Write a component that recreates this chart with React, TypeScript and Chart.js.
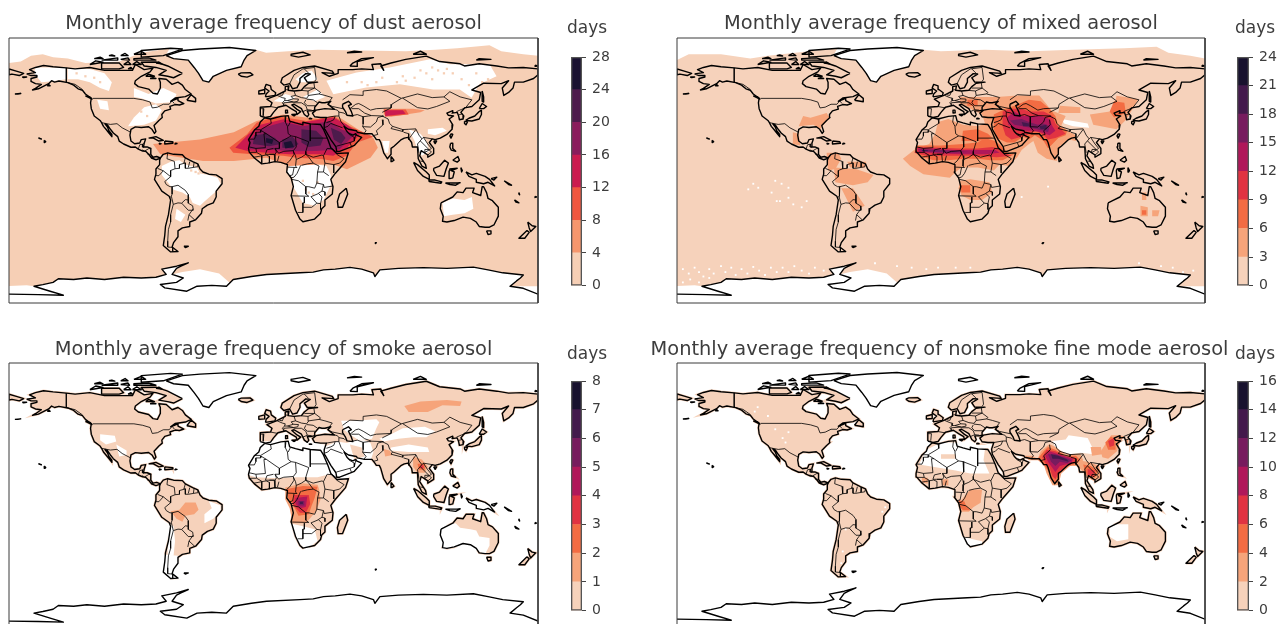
import React, { useEffect, useRef } from "react";
import { Chart, registerables } from "chart.js";
Chart.register(...registerables);

type P = number[][];

const dustTicks = [0, 4, 8, 12, 16, 20, 24, 28];
const mixedTicks = [0, 3, 6, 9, 12, 15, 18, 21, 24];
const smokeTicks = [0, 1, 2, 3, 4, 5, 6, 7, 8];
const fineTicks = [0, 2, 4, 6, 8, 10, 12, 14, 16];
const sevenColors = ["#f6cfb5", "#f5966d", "#f0563f", "#cb1b4f", "#8a1c5c", "#4d1b4c", "#1a1231"];
const eightColors = ["#f6d2bb", "#f6a47a", "#f36c43", "#e13342", "#b0185a", "#771c5e", "#431a4c", "#18122e"];

// ---------- coastlines (lon, lat) ----------
const northAmerica: P = [[-168,65.6],[-165,64.5],[-161,64.5],[-161,63.5],[-165,62.5],[-165,60.5],[-162,59],[-158,58.5],[-162,55.8],[-164,54.7],[-160,55.5],[-156,57.5],[-153,59],[-151,61],[-149,60],[-146,60.8],[-140,59.7],[-136,58],[-133,55.5],[-130,54.5],[-128,52],[-124,49],[-124.5,46],[-124,42],[-122,37],[-118,34],[-117,32.5],[-115.7,30],[-114,28],[-112,25.5],[-110,23],[-110,24.5],[-112,27],[-113,29.5],[-114.7,31.7],[-113,31],[-111,28],[-109,25.5],[-106,23],[-105,20],[-102,18],[-97,15.8],[-94,16],[-92,14.5],[-89,13.2],[-87,13],[-85,11],[-83,8.5],[-80,7.3],[-78,8],[-77,8.5],[-79.5,9.5],[-82,9],[-83.5,11],[-83.5,15],[-86,16],[-88.5,16],[-88,18.5],[-87,21.5],[-90,21],[-91,18.7],[-94.5,18.2],[-97,20],[-97.7,24],[-97,28],[-94,29.6],[-90,29.2],[-85,29.7],[-82.7,28],[-81,25.2],[-80,26.5],[-81.3,30.5],[-78,34],[-75.7,36],[-76,38],[-74,40.5],[-70,41.7],[-70.5,43.5],[-67,44.8],[-64,44.5],[-61,45.5],[-65,47.5],[-65,49],[-70,47],[-67,49.2],[-60,50.2],[-56,52],[-60,55],[-62,58],[-65,60],[-69,58.5],[-73,62],[-78,62.5],[-77,60],[-77,56],[-79,52],[-82,52.5],[-85,55.3],[-92,57],[-94.5,59],[-94,61],[-90,64],[-87,65.5],[-84,67],[-82,69.5],[-88,68.5],[-94,72],[-96,68],[-102,68],[-108,68],[-115,68],[-125,70],[-135,69],[-141,69.7],[-150,70.5],[-156.5,71.3],[-162,70],[-166,68.5],[-162,66.5]];
const greenland: P = [[-73,78],[-68,76],[-58,75],[-54,70],[-51,66],[-48,61],[-44,60],[-41,64],[-32,68],[-22,70.5],[-20,75],[-18,78],[-12,81.5],[-30,83.5],[-50,82.5],[-62,81.5]];
const southAmerica: P = [[-77,8.5],[-75,11],[-72,12],[-68,11],[-62,10.7],[-60,8.5],[-55,6],[-51.5,4.5],[-50,1],[-48,-1],[-44,-2.5],[-39,-3],[-35,-5.5],[-35,-9],[-39,-14],[-39,-18],[-41,-22],[-45,-23.5],[-48.5,-26],[-49,-29],[-53,-33.5],[-57,-35],[-57,-38],[-62,-39],[-65,-41],[-65,-45],[-68,-49],[-69,-52],[-65,-55],[-70,-55.3],[-75,-51],[-74,-44],[-73.5,-38],[-71.5,-30],[-70,-20],[-71,-17.5],[-76,-14],[-81,-6],[-80,-2.5],[-80,1],[-77.5,4],[-77.5,7]];
const africa: P = [[-6,35.8],[-2,35],[5,36.8],[10,37.3],[11,33.5],[15,32.3],[20,31],[20,32.8],[25,31.7],[32,31.2],[34,28],[37,21],[39,15.5],[43,11.5],[51,12],[49,6],[42,-2],[39,-6],[40.5,-11],[40,-16],[35,-20],[35,-24],[32.8,-26],[32,-29],[28,-33],[20,-34.8],[18,-33],[15,-27],[12,-17],[13.5,-11],[12,-5],[9,-1],[9.5,4],[5,5.5],[1,6],[-4,5],[-8,4.5],[-13,8.5],[-16.5,12.5],[-17,15],[-16,19],[-17,21],[-13,27.5],[-10,30],[-9,33]];
const eurasia: P = [[-9,37],[-9,43],[-2,43.5],[-1,46],[-4.5,48.5],[2,51],[4,52],[8,54],[8,57],[10.5,57.5],[10,54.5],[14,54],[19,54.5],[21,57],[24,59.3],[30,60],[23,60],[21,63],[25,65.5],[22,65.8],[18,62.5],[18,60],[16,56.3],[13,55.5],[11,59],[7,58],[5,60],[6,63],[14,68],[20,70],[28,71],[40,67.5],[41,66],[33,66.5],[38,64],[44,66],[44,68.5],[54,68.5],[60,69],[68,68.5],[67,72],[73,72.5],[75,68],[73,71],[80,73],[90,75.5],[104,77.7],[113,74],[127,72.5],[130,71],[140,72.5],[152,71],[160,69.7],[170,70],[180,69],[180,65],[177,62.5],[170,60],[164,60],[163,56],[160,53],[156.7,51],[155.7,56],[160,61],[155,59],[143,59.3],[135,54.7],[141,53],[140,48],[135,43.5],[130,42.5],[127.5,39.5],[129.5,37],[129,35],[126.5,34.5],[126,37],[125,39.5],[121.5,39],[122,40.7],[118,39],[119,37.5],[122.5,37],[119.5,35],[122,31],[121.5,28],[118,24.5],[113.5,22],[110,21],[108,21.5],[106,19],[109,15],[109,11.5],[105,9],[105,10.5],[100.5,13.5],[99.5,10],[103.5,4],[104,1.5],[101,3],[98.5,8],[98,16],[94.5,16],[94,19],[91.5,22.5],[89,22],[87,21],[82,16.5],[80,15],[80,11],[77.5,8],[75,12],[73,19],[72,21],[70,21],[69,22.5],[67,25],[62,25],[57,26],[56.5,27],[51,28],[48,30],[50,26.5],[51.5,25],[54,24],[56,25],[56.5,24],[60,22.5],[55,17],[52,15.7],[45,13],[43,13],[42.5,16],[39,21],[35,28],[34.5,31.5],[36,36],[32,36],[28,36.5],[26.5,39],[29,41],[35,42],[41.5,41.5],[37,45],[39,47],[35,46],[33,46],[31,46.5],[28,43],[28,41],[26,40.5],[23,40.5],[24,38],[23,36.5],[21,38],[19.5,41],[19,42],[14,45],[12.5,44.5],[16,41.5],[18.5,40],[16,38],[15.5,40],[12,42],[8.5,44.3],[3,43],[0,39.5],[-2,36.7],[-5.5,36]];
const chukotkaEast: P = [[-180,69],[-175,67.5],[-170,66],[-173,64.5],[-178,65.5],[-180,65]];
const australia: P = [[114,-22],[113.5,-26],[115.5,-31],[115,-34.5],[118,-35],[123,-34],[129,-31.7],[134,-32.5],[138,-35],[140,-38],[144,-38.5],[147,-38.5],[150,-37],[153,-31],[153,-25],[149,-20.5],[146,-19],[145,-15],[143,-11],[142,-11],[141,-17],[135.5,-15],[136.5,-12],[131,-12],[129,-15],[125,-14.5],[122,-18],[117,-20.5]];
const filledIslands: P[] = [
  [[49.5,-12],[50.5,-16],[47,-25],[44,-25],[43.5,-21],[45,-16]],
  [[-5.5,50],[1,51],[1.5,52.8],[-1.5,55],[-2,57.5],[-5,58.5],[-6,56],[-3,54],[-5,52]],
  [[-10,52],[-6,52.3],[-6,55],[-10,54]],
  [[-24,65.5],[-22,64],[-18,63.4],[-14,65],[-16,66.5],[-22,66.3]],
  [[142,54],[143,50],[143,46.5],[142,47]],
  [[130.8,34],[135,33.6],[140,35],[141.5,38],[141.5,41],[140,40],[137,37],[133,35.5]],
  [[140,42],[143,42],[145,43.5],[142,45.5]],
  [[130,33.5],[132,33],[131,31],[130,32]],
  [[121,25],[122,24.5],[120.8,22],[120,23.5]],
  [[109,20],[111,20],[110,18.3]],
  [[120.5,18.5],[122,18.5],[122,15],[124,13],[121,13.8],[120,16]],
  [[122,7],[125.5,9.5],[126.5,7],[125,5.7]],
  [[95.3,5.5],[98,4],[104,-1],[106,-3],[106,-6],[102,-4],[98,0]],
  [[105.5,-6.5],[110,-6.5],[114.5,-7.7],[114,-8.7],[106,-7.5]],
  [[109,1.5],[113,3],[116.5,7],[119,5],[117.5,1],[116,-4],[111,-3.3],[109,0]],
  [[119.5,0],[120,1],[125,1.5],[121,0],[123,-1],[122,-5],[120,-5.5]],
  [[131,-1],[135,-3],[138,-2],[144,-4],[147,-6],[150.5,-10.5],[146,-8],[143,-9],[138,-8],[138,-6],[133,-4]],
  [[145,-41],[148,-41],[148,-43],[146,-43.5]],
  [[173,-35],[176,-37.5],[178.5,-38],[175,-41.5],[174,-39]],
  [[172.5,-40.7],[174,-42],[171,-46],[167,-46]],
  [[80,9.5],[82,7],[80.5,6]],
  [[-85,22],[-80,23],[-75,20.5],[-78,20],[-82,22.2]],
  [[-74,20],[-69,19.5],[-68.5,18.5],[-74,18]],
  [[-59,47.7],[-53,46.7],[-53,49],[-56,51.5]],
  [[-128,50.7],[-123.5,48.5],[-125,50]],
  [[-62,66],[-68,63],[-72,64],[-78,65],[-73,68],[-80,70],[-88,71],[-90,73.5],[-80,73.7],[-72,71]],
  [[-117,69],[-105,69],[-102,70],[-105,73],[-117,73]],
  [[-87,64],[-81,64],[-85,65.5]],
  [[14,37],[15.5,38.2],[12.5,38]],
  [[8.2,39],[9.7,39.2],[9.5,41],[8.2,41]],
  [[24,35.2],[26,35.2],[25,35.5]],
];
const outlineIslands: P[] = [
  [[-125,72],[-116,73.5],[-121,74.5]],
  [[-90,77],[-75,78],[-62,82.5],[-70,83],[-90,81.5]],
  [[-95,75],[-80,75],[-85,76.5],[-95,76]],
  [[-117,75],[-106,75],[-106,76.5]],
  [[-95,79],[-87,79],[-90,81]],
  [[-96,72],[-90,72],[-93,74]],
  [[-99,69],[-96,69],[-97,70]],
  [[-102,72],[-97,72],[-99,74]],
  [[-104,75.5],[-98,75],[-99,76.5]],
  [[-122,76],[-116,76],[-118,77]],
  [[-104,78],[-99,78],[-101,79.5]],
  [[-84,62.5],[-80,62.5],[-82,63]],
  [[-80,73],[-76,72.5],[-78,73.7]],
  [[-112,78],[-108,77.8],[-110,78.5]],
  [[-154,57.5],[-152,57.5],[-153,58.3]],
  [[-171,63.5],[-168,63.5],[-170,63.2]],
  [[-176,52],[-172,52.3],[-174,52]],
  [[50,80],[60,80.5],[55,81]],
  [[12,78],[17,77],[25,78.5],[20,80.3],[12,79]],
  [[52,71],[57,70.7],[57,74],[68,76.7],[60,76],[54,73]],
  [[95,79],[104,79],[100,81]],
  [[138,75],[148,75.5],[140,76]],
  [[178,71.5],[180,71],[178,70.8]],
  [[-61,-51.5],[-58,-51.5],[-60,-52.3]],
  [[-156,20.5],[-155,19.5],[-155.7,19],[-156,19.5]],
  [[-160,22],[-158,21.4],[-158.5,21.6]],
  [[69,-49],[70,-49],[69.5,-49.6]],
  [[47,45],[51,47],[53,45],[51,44],[53,40],[54,37],[50,37.5],[49,40],[47,43]],
  [[148,-5.5],[152,-4.5],[150,-6.5]],
  [[157,-7],[162,-10],[160,-9.5]],
  [[164,-20],[167,-22],[165,-21.5]],
  [[167,-15],[167.5,-16.5],[167,-16]],
  [[178,-17.5],[179,-18],[178,-18.3]],
  [[117,-8.5],[125,-8.5],[127,-8.3],[124,-10],[120,-9.5]],
  [[127.5,2],[128.5,0],[128,-1]],
  [[-78,18.5],[-76.5,18.2],[-77.5,17.9]],
  [[-67,18.5],[-65.7,18.3],[-67,18]],
];
const antarcticaCoast: P = [[-180,-84],[-160,-84.3],[-143,-84.7],[-152,-82],[-163,-78.6],[-157,-77.5],[-150,-76],[-146.4,-73.5],[-136,-74],[-127,-73],[-115,-74],[-102,-72.5],[-90,-73],[-80,-72.5],[-73,-70.6],[-76,-67],[-66,-65],[-58,-62.7],[-63,-65],[-66,-66.5],[-69,-70.6],[-61.4,-73],[-66,-76],[-77,-77.4],[-74,-79.7],[-59,-82],[-52,-78.6],[-42,-78],[-32,-78.6],[-27.4,-74],[-15,-72],[-4.7,-70.6],[18,-69.5],[27,-69],[34,-67.5],[42,-67],[52,-65.8],[60,-67],[68,-69.5],[69,-72],[72.4,-67.5],[85,-66.5],[102,-66],[118,-66.5],[136,-65.6],[146,-67.5],[156,-69.5],[170,-71],[168,-73],[165.4,-75],[161,-78.6],[170,-80],[180,-84]];

// ---------- country borders ----------
const borderLines: P[] = [
  [[-123,49],[-95,49],[-89,48],[-84,46.5],[-82.5,42.5],[-79,43],[-75,45],[-71,45],[-69,47.3],[-67.5,45.5]],
  [[-141,69.7],[-141,60],[-135,58.5],[-130,55]],
  [[-117,32.5],[-111,31.3],[-106.5,31.8],[-103,29],[-97.2,26]],
  [[-92,14.6],[-91,17.5],[-89,17.9],[-88.3,18.5]],[[-89,18],[-89.2,15.9],[-88.2,15.7]],
  [[-89.5,14],[-87.7,13.2],[-85,14.8],[-83.2,15]],[[-85.7,11],[-83.7,11]],[[-83,8.5],[-82.8,9.5]],
  [[-72,12],[-72.5,8],[-67.5,6.2],[-67,1.2],[-70,0],[-70,-4.2],[-75,-0.2],[-78.8,1.4]],
  [[-75,-0.2],[-78,-3.5],[-80.3,-3.5]],
  [[-60,8.5],[-61,5],[-60,5.2],[-60,1.5],[-58,1.5],[-52,2.5],[-51.5,4.3]],
  [[-60.5,5],[-64,4],[-64,1.5],[-67,1.2]],[[-57,6],[-58,2]],[[-54,5.7],[-54.5,2.3]],
  [[-70,-4.2],[-74,-7.5],[-73,-9.5],[-70.5,-11],[-69,-11],[-65,-10],[-60,-13.5],[-58,-16.3],[-58,-20]],
  [[-69,-11],[-69,-16],[-69.5,-17.5],[-70.4,-18.3]],
  [[-69.5,-17.5],[-68.2,-23],[-70,-30],[-70,-35],[-71.5,-40],[-72,-48],[-72,-52],[-68.5,-52.3]],[[-68.6,-52.5],[-68.6,-55]],
  [[-68.2,-23],[-65,-22],[-62.5,-22.2],[-60,-19.8],[-58,-20]],
  [[-62.5,-22.2],[-58,-27],[-54.6,-27]],[[-58,-20],[-58,-22.2],[-55,-24],[-54.6,-27]],
  [[-54.6,-26],[-57.5,-30],[-53.5,-33.7]],[[-57.5,-30],[-58.3,-34]],
  [[-2,35],[-1.5,32],[-8.7,27.7],[-13,27.7]],[[-8.7,27.3],[-8.7,26],[-12,26],[-12,23.5],[-13,21.3],[-17,21.3]],
  [[-8.7,27.3],[-4.8,25],[-6.5,25],[-5.5,15.5],[-12,15],[-16.5,16]],
  [[-4.8,25],[1,21],[4,19],[4,15],[1,15],[3.5,11.7]],[[4,19],[12,23.5],[15,23],[15.5,16],[13.5,13.5],[7,13],[3.5,11.7]],
  [[8.5,37],[8,33],[9.5,30],[10,25],[12,23.5]],[[11.5,33],[10,30]],[[25,31.7],[25,20]],[[24,19.5],[15,23]],
  [[3.7,10],[2.7,6.3]],[[13.5,13.5],[14,11],[11,6.5],[8.7,4.5]],[[13.5,13],[15,10],[15.5,7.5],[19,9],[22,11]],
  [[24,19.5],[22,13],[22,11]],[[25,22],[36.9,22]],[[22,11],[27,9],[33,10.5],[34,10],[35,5],[41,4]],
  [[36.5,15],[34,10]],[[36.5,15],[40,14.7],[43,12.5]],[[43,11],[48,8],[45,5],[41,4],[41,-1.7]],
  [[37.6,-3.5],[34,-1],[30,-1],[31,3],[27,5],[23,4.5],[19,3.5]],[[34,-1],[35,5]],[[27,5],[24,9],[22,11]],
  [[15.5,7.5],[15,3],[16,2],[9.8,2.3]],[[14,2],[13,-3],[11,-3.5],[12,-5]],[[18.5,3.5],[16,-2],[14,-4.5],[12,-5]],
  [[12.5,-6],[17,-7],[22,-11],[24,-11],[28,-12],[29.5,-8.5],[30,-1]],[[29.5,-8.5],[34,-9.5],[34.5,-11.5],[40.5,-10.5]],
  [[34,-9.5],[33,-14],[35,-14.5],[35,-17]],[[33,-14],[30.5,-15.5],[33,-18],[32,-22.5]],[[30.5,-15.7],[25.5,-17.8]],
  [[22,-11],[22,-16],[24,-17.5],[11.8,-17.2]],[[21,-18],[21,-22],[20,-22],[20,-28.5],[16.5,-28.5]],
  [[20,-25],[26,-25],[29.5,-22.2],[32,-22.5],[32,-26.5]],[[25.5,-17.8],[29.5,-22.2]],
  [[-12,15],[-11.5,12.5]],[[-16.7,12.3],[-11.5,12.3],[-8,10.3]],[[-13.3,9],[-10.5,9.5],[-8,10],[-8,5]],
  [[-8,10],[-5,10.5],[-2.7,9.5],[-2.8,5]],[[-2.8,11],[0.5,11],[1,6]],[[-5.5,11],[-3,11],[1,11],[2,12.5],[1,15]],[[-5.5,11],[-4.5,14],[0,15]],
  [[36,36],[42,37],[44.5,37],[46,33],[48.5,30]],[[42,37],[41,34.5],[38.8,33.4],[36,32.5]],[[39,32],[47,29]],[[35,29.3],[37,30],[39,32]],
  [[44.5,37],[44.5,39.7],[48,39],[49,38]],[[41.5,41.5],[43.5,41],[44.5,39.7]],[[37,45],[40,43.5],[48,41.8]],
  [[42.8,16.5],[52,19],[53,16.5]],[[52,19],[55,20],[56,24.5]],[[51.5,24.5],[55,22.5],[55,20]],
  [[61,36.5],[61,31.5],[60.7,29.8],[63,27],[61.5,25]],[[60.7,29.8],[66,29.5],[70,33],[71,36],[74.8,37]],
  [[53.5,37.2],[57,38],[61,36.5],[64.5,37],[66.5,37.3],[74.8,37]],[[53,42],[58,42],[62,39],[66.5,37.3]],
  [[52,42],[56,45],[58,45.5],[61,44],[66,41],[70,42],[80,42.5]],[[47,48],[52,51.5],[61,51],[61,54],[70,55],[77,54],[87,49]],
  [[87,49],[80.5,45],[80,42.5],[74,39.5]],[[74,37],[78,35],[79,32],[81,30]],[[81,30],[88,27.8],[88,26.5],[80,28.5],[81,30]],
  [[74,34.5],[74.5,31],[70,27],[71,24.5],[68,23.7]],[[88,27.8],[92,28],[97,28.3]],[[88.5,26],[92,25],[92,21]],[[92.5,22],[94,24],[97,28]],
  [[97,28],[99,24],[101,21.5],[98,18],[99,12]],[[101,21.5],[102,22.5],[105,18],[107.5,15],[106,14],[100,20]],[[102,22.5],[108,21.5]],
  [[102.5,12],[106,14],[107.5,12.5],[105,10.5]],[[102.5,12],[103,14.3],[106,14.3]],[[100,6.5],[102,6]],
  [[87.8,49.2],[98,42.7],[105,41.8],[111,43.5],[120,47],[116,50],[108,49.5],[98,52],[87.8,49.2]],
  [[87,49],[87.8,49.2]],[[116,50],[120,53.5],[127,50],[135,48],[131,43],[130.5,42.5]],[[124.5,40],[128,41.5],[130.5,42.5]],[[126,37.8],[128.5,38.5]],
  [[-1.8,43.4],[3,42.5]],[[-9,42],[-6.5,42],[-7,37.2]],[[2.5,51],[6,49.5],[8,49],[7.5,47.5],[6,46],[7.5,44]],[[4,51.4],[6,51],[7,53.3]],
  [[14,54],[15,51],[12,50.3],[13.5,48.7],[9.5,47.5],[7.5,47.5]],[[8.5,54.9],[10,54.8]],[[7,44],[7,46],[13.7,46.5]],
  [[9.5,47.5],[13.7,46.5],[16.5,47],[17,48.5],[13.5,48.7]],[[15,51],[19,49.5],[22.5,49],[24,51],[23.5,54],[19,54.4]],
  [[21,56],[28,56],[27.5,59.4]],[[23.5,54],[28,56]],[[24,51],[31,52],[32,53],[28,56]],[[22.5,48.5],[27,48],[30,46]],[[31,52],[35,51],[40,49.5],[38,47]],
  [[22,48],[21,46],[23,44],[28.5,44]],[[13.7,46],[19,46],[22,44],[23,41.3],[20,40]],[[26,41],[23,41.3]],
  [[28,70],[29,62],[28,60.5]],[[11,59],[14,65],[20,69],[28,70]],[[24,66],[21,69]],
];

// shared white sea-ice shapes near the Antarctic coast
const iceLeft: P = [[-180,-78.5],[-168,-78],[-163,-78.6],[-143,-84.7],[-150,-90],[-180,-90]];
const iceRight: P = [[161,-78.6],[180,-78.6],[180,-90],[161,-90]];
const iceWeddell: P = [[-75,-72],[-62,-69],[-50,-67],[-37,-70],[-30,-76],[-32,-79],[-59,-83],[-78,-80]];

// ---------- dust panel ----------
const dustBase: P = [[-180,73],[-172,74],[-165,78],[-157,79],[-150,77],[-140,76],[-128,73],[-105,74],[-90,80],[-70,83],[-12,82],[-5,80],[10,81],[30,82],[60,81.5],[90,81],[110,82],[125,83],[147,85],[155,81],[170,79],[180,78],[180,-90],[-180,-90]];
const dustHoles: P[] = [
  [[-73,79],[-68,76],[-58,75],[-54,70],[-51,66],[-48,61],[-44,60],[-41,64],[-32,68],[-22,70.5],[-20,75],[-18,78],[-12,83],[-70,84]],
  [[-162,70],[-141,70],[-141,62],[-152,60.5],[-158,60],[-163,66]],
  [[-140,69],[-125,69],[-115,66],[-110,60],[-112,54],[-118,56],[-125,60],[-133,62],[-140,62]],
  [[-95,56],[-85,52],[-75,56],[-66,52],[-68,46.5],[-80,45.5],[-90,49],[-95,50]],
  [[-95,36],[-88,43],[-80,45],[-76,41],[-80,34],[-88,31],[-99,30]],
  [[-120,48],[-113,47],[-112,41],[-118,42]],
  [[-76,3],[-70,6],[-64,7],[-60,4],[-52,2],[-50,-2],[-44,-3],[-38,-5],[-36,-9],[-40,-15],[-47,-21],[-50,-24],[-55,-22],[-57,-18],[-62,-15],[-68,-13],[-72,-8],[-76,-3]],
  [[-66,-26],[-60,-30],[-63,-35],[-67,-33]],
  iceLeft, iceRight, iceWeddell,
  [[11,3],[20,4],[30,4],[36,3],[39,-3],[39,-10],[34,-20],[28,-24],[20,-22],[14,-12],[13,-5],[9,-1]],
  [[15,62],[20,66],[26,68],[30,62],[24,60],[18,60]],
  [[20,50],[30,55],[35,50],[28,47]],
  [[0,47],[8,52],[15,50],[10,46]],
  [[36,61],[56.5,66.5],[79,70],[106.5,75.6],[120,72.2],[147,72.2],[151.8,64],[140,58.6],[134.8,49.5],[126.8,55],[108.7,55],[86,58.6],[63,56.3],[40.7,51.8]],
  [[105,28],[115,29],[118,27],[110,24],[105,25]],
  [[92,28],[100,25],[104,20],[106,13],[101,10],[98,14],[96,20]],
  [[74,20],[79,20],[78,12],[76,12]],
  [[115,-22],[122,-19],[130,-20],[135,-18],[136,-26],[130,-29],[122,-30],[116,-31]],
];
const dustPeachSpeckle: P = [[100,68],[104,66],[108,70],[112,68],[116,66],[118,69],[122,66],[96,63],[90,61],[88,64],[84,60],[142,60],[146,62],[140,55],[142,57],[60,60],[64,58],[70,60],[74,63],[50,60],[-56,0],[-53,-1],[-51,-2],[22,-13],[24,-15],[27,-16],[20,-7],[30,-8],[-128,64],[-122,63],[-118,60],[-134,66],[-90,40],[-86,37],[108,62],[128,62],[133,58],[138,66]];
const dustLevels: P[][] = [
  [],
  [[[-82,18],[-50,21],[-27,26],[-11.5,33.7],[6.7,38],[22,36],[34,35],[40.7,37],[45,36],[59,27],[68,22],[71,15.5],[66,8.7],[50,0.8],[40.7,4],[29,4],[11,3],[-4.7,8.7],[-27,6.5],[-48,6.5],[-77,11]],[[75,42],[95,42],[103,41],[100,39.5],[80,36.5],[75,38]]],
  [[[-30,15.5],[-18,24.6],[-11.5,32.5],[2,37],[22.5,33.7],[40.7,37],[52,30],[68,23],[56.5,18.8],[50,10],[40.7,6.5],[34,7.6],[15.7,8.7],[6.7,10],[-14,11],[-27.4,12]],[[75,41.5],[90,41.5],[92,38],[76,36.5]]],
  [[[-26,15.5],[-17,24.6],[-9,31],[6.7,34.8],[18,32.5],[40.7,36],[50,31],[58.8,24.6],[50,15.5],[40.7,10],[31.6,11],[11,11],[-4.7,12],[-17,13]],[[76,41],[88,41],[90,38.5],[76,37]]],
  [[[-17,20],[-7,29],[6.7,33],[20,30],[38,33.7],[46,28],[55.4,24.6],[45,14.4],[29,13.3],[11,13],[-4.7,14.4],[-16,14.4]]],
  [[[-13,24],[-5,25],[1,22],[5,18],[-3,16.5],[-14,18]],[[6,21],[13,23],[17,18],[13,15],[6,15.5]],[[19,28],[29,27],[34,22],[32,17],[24,16],[19,19]],[[39,29],[46,26],[49,22],[46,18],[41,21]]],
  [[[7,19],[12,20],[14,16],[8,15]],[[-5,22],[0,21],[-1,18],[-5,19]]],
];

// ---------- mixed panel ----------
const mixedBase: P = [[-180,75],[-172,79],[-150,79],[-130,76],[-118,78],[-90,81],[-70,83],[-12,82],[0,81],[30,82],[60,81],[90,82],[125,83],[147,84],[155,80],[170,78],[180,76],[180,-90],[-180,-90]];
const mixedHoles: P[] = [
  [[-73,79],[-68,76],[-58,75],[-54,70],[-51,66],[-48,61],[-44,60],[-41,64],[-32,68],[-22,70.5],[-20,75],[-18,78],[-12,83],[-70,84]],
  iceLeft, iceRight, iceWeddell,
  [[82,35],[100,32],[101,29],[90,30],[84,32]],
];
const mixedSpeckle: P = [[-131.4,-12.8],[-124.6,-11.7],[-128,-9],[-113,-7],[-108.7,-9],[-115.5,-15],[-112,-20.8],[-104,-18.5],[-100.7,-23],[-95,-25],[-91.6,-20.8],[-104,-11.7],[-109.8,-20.8],[-176,-67],[-172,-70],[-168,-66],[-165,-69],[-162,-72],[-158,-67],[-155,-70],[-150,-65],[-147,-69],[-143,-66],[-140,-71],[-136,-67],[-132,-70],[-128,-65.5],[-124,-68],[-120,-71],[-116,-66],[-112,-69],[-108,-66],[-104,-69],[-100,-65],[-95,-68],[-90,-70],[-86,-66],[-80,-68],[-75,-67],[-176,-76],[-171,-74],[-165,-76],[-158,-73],[-30,-65],[-20,-66],[-10,-67],[-2,-66],[10,-66],[-45,-63],[20,-66],[135,-63],[150,-65],[158,-66],[165,-69],[172,-68],[55,-18],[73,-11]];
const mixedLevels: P[][] = [
  [],
  [[[-26,8],[-17,15],[-8,18],[-4,25],[-2,33],[5,35],[15,31],[25,30],[30,32],[28,38],[20,42],[13,45],[13,50],[30,50],[38,50],[52,51],[67,51],[72,45],[75,41],[85,37],[82,30.5],[88,26],[92,24],[92,20],[87,21],[82,17],[80,12],[79,6.5],[72,8],[66,12],[63,20],[60,18],[55,14],[52,9],[46,3],[40,4],[36,0],[25,2],[20,2],[14,2],[10,-1],[6,-5],[-12,-2.6],[-21,3]],
   [[13,-7],[20,-6],[33,-8],[35,-15],[28,-20],[20,-20],[14,-17],[12,-12]],
   [[119.7,50.7],[128.8,49.5],[134.5,48.4],[126.5,34.8],[119.7,28],[103.8,31],[101.5,38],[117.4,40.5]],
   [[81,44],[95,43],[95,39],[80,39]],
   [[136,-24],[141,-25],[141,-31],[136,-31]],[[144,-27],[149,-27],[148,-31],[144,-31]],[[137,-15],[140,-15],[140,-20],[137,-20]],
   [[-97,30],[-94,37],[-89,35.9],[-78,39],[-76,36],[-82.5,28],[-87,31]],
   [[-101,26],[-97,25],[-96,17],[-101,18]],
   [[-78,12],[-70,12],[-68,8],[-72,1],[-77,0]],
   [[-64,6],[-51,6],[-52,2],[-62,2]],
   [[-73,2],[-58,1],[-46,-3],[-50,-8],[-60,-10],[-72,-8]],
   [[-68,-12],[-60,-12],[-56,-18],[-52,-24],[-60,-28],[-64,-20]]],
  [[[-18,12],[-17,17],[0,17],[15,18],[25,19],[30,22],[37,20],[43,15],[46,11],[50,11],[42,7],[34,7],[25,8],[15,8],[5,7],[-5,7],[-12,9]],
   [[15,27],[25,28],[32,25],[35,22],[25,20],[14,20]],
   [[36,38],[44,42],[50,44],[60,48],[68,47],[74,42],[78,37],[80,30],[86,27],[85,24],[80,22],[75,17],[73,15],[70,20],[64,24],[60,21],[56,23],[50,19],[45,19],[38,22],[36,28]],
   [[13,-10],[20,-10],[20,-15],[14,-15]],[[18,48],[25,48],[25,44],[18,44]],
   [[118,47],[125,46],[126,39],[118,36],[115,40]],[[137,-27],[140,-27],[140,-30],[137,-30]]],
  [[[-18,12],[-16,16],[0,15.5],[12,15],[25,15],[35,16],[40,15],[43,12],[48,10],[38,9],[25,10],[12,10],[0,10],[-10,10]],
   [[42,40],[48,42],[55,42],[60,40],[70,40],[76,37],[78,32],[82,28],[85,25],[78,22],[73,21],[70,24],[65,27],[58,24],[52,22],[48,21],[44,24],[42,30]]],
  [[[-16,15],[-5,15],[8,14],[18,14],[30,14],[37,14],[40,12],[30,11],[15,11],[0,11.5],[-15,12.5]],
   [[45,36],[50,40],[55,37],[60,37],[68,37],[74,35],[76,30],[78,27],[74,24],[68,26],[62,27],[55,27],[50,29],[46,31]]],
  [[[-15,14.5],[0,14],[12,13],[20,12.5],[5,12],[-12,13]],
   [[47,34],[55,35],[60,33],[66,31],[70,32],[74,30],[73,26],[70,27],[63,28.5],[56,30],[50,31]]],
  [[[67,30],[72,31],[72,28],[68,28]],[[55,33],[60,32],[60,30],[56,30]],[[-13,14],[-9,14],[-9,13],[-13,13]]],
  [],
];

// ---------- smoke panel ----------
const smokeHoles: P[] = [
  [[-18,36.5],[12,38],[30,36],[36,34],[43,37],[50,36],[56,38],[62,38],[66,36],[68,30],[66,24],[60,20],[50,12],[44,12],[38,15],[30,13],[15,13],[0,12.5],[-12,13],[-19,15]],
  [[46,51],[55,51],[70,52],[72,50],[70,46],[67,39],[58,38],[52,42],[48,45]],
  [[88,46],[103,47],[110,44],[104,40],[95,40],[85,39],[75,37],[72,39],[80,42]],
  [[80,33],[92,35],[105,33],[106,30],[92,30],[80,31]],
  [[11,-18],[20,-20],[28,-22],[30,-30],[22,-36],[16,-30]],
  [[113,-20],[124,-18],[127,-21],[134,-22],[138,-23],[140,-27],[147,-28],[147,-33],[144,-39],[130,-33],[115,-36],[112,-26]],
  [[134,-2],[148,-5],[151,-11],[140,-10],[132,-5]],
  [[-118,42],[-108,41],[-107,37],[-114,35],[-118,38]],
  [[-107,35],[-100,31],[-100,28],[-105,27]],
  [[-44,-3],[-36,-6],[-36,-10],[-41,-15],[-47,-18],[-47,-12],[-42,-8]],
  [[-72,-18],[-68,-20],[-67,-30],[-68,-40],[-72,-40]],
  [[-76,-39],[-65,-40],[-62,-56],[-76,-56]],
];
const smokePeachPatches: P[] = [[[52,35],[60,33],[62,27],[55,25]]];
const smokeLevels: P[][] = [
  [],
  [[[89,61],[100,64],[118,65],[128,64],[127,61],[115,61.5],[105,57],[92,57]],
   [[-70,-10],[-64,-9],[-60,-4],[-53,-4],[-51,-9],[-54,-12],[-60,-13],[-62,-17],[-66,-15]],
   [[8,6],[20,9],[30,8],[31,5],[32,-2],[29,-10],[22,-18],[13,-18],[11,-8],[8,-2]],
   [[75,32],[79,31],[81,28],[76,27]],
   [[95,27],[101,25],[105,20],[103,16],[98,16],[95,20]]],
  [[[9,5],[20,7],[30,6.5],[28,-1],[26,-6],[24,-12],[17,-13],[13,-5],[10,-1]],[[98,22],[103,22],[103,18],[99,18]]],
  [[[14,1],[24,1],[25,-5],[22,-11],[18,-11],[13,-5]],[[100,21],[102,21],[102,19],[100,19]]],
  [[[15,-1],[23,0],[22,-7],[18,-8],[15,-5]]],
  [[[17,-3],[21,-3],[21,-6],[17,-6]]],
  [[[18,-3.5],[20,-3.5],[20,-5],[18,-5]]],
  [],
];

// ---------- nonsmoke fine mode panel ----------
const fineHoles: P[] = [
  [[-15,21],[-10,31],[0,36],[10,36],[30,32],[29,24],[33,15],[20,15],[10,17]],
  [[76,37],[85,38],[87,41],[100,39],[103,33],[104,28],[95,29],[88,28],[82,30],[78,33]],
  [[115,-19.5],[127.7,-19.5],[127.7,-29.7],[120,-31],[115,-28]],
  [[14,-28],[28,-31],[28,-34],[18,-35]],
];
const finePeachPatches: P[] = [[[0,28],[10,28],[10,25],[0,25]]];
const fineSpeckle: P = [[-127,57],[-118,54],[-113,45],[-108,39],[-106,36],[-104,43],[-38,-8],[-40,-11],[-65,-23],[-67,-38],[-68,-46],[-125,60]];
const fineLevels: P[][] = [
  [],
  [[[56,27],[62,27],[66,25],[68,30],[74,35],[78,33],[85,28],[95,28],[97,24],[93,20],[88,20],[82,15],[80,7],[76,7],[72,15],[70,21],[66,24],[60,24]],
   [[93,24],[100,23],[108,20],[109,12],[104,10],[100,12],[97,16],[94,19]],
   [[102,33],[109,33],[110,28],[103,27]],
   [[109,30],[114,38],[116,41],[122,41],[125,40],[122,36],[120,30],[114,25],[110,26]],
   [[125,38],[128,38],[127,35]],
   [[14,-3],[20,4],[28,4],[27,-5],[22,-8],[19,-11],[13,-11]],
   [[-13,12],[-9,12],[-9,8],[-13,9]],[[1,11],[5,11],[5,7],[1,7]]],
  [[[66,25],[70,30],[73,33],[78,31],[85,27],[92,27],[95,24],[91,21],[86,20],[81,15],[78,9],[76,10],[73,17],[70,21]],
   [[97,21],[102,20],[107,17],[105,12],[100,13],[98,17]],
   [[112,36],[116,40],[119,38],[119,31],[114,31]],
   [[12,-3],[16,-4],[17,-7],[20,-10],[15,-10],[13,-8]]],
  [[[69,26],[72,31],[78,30],[85,26.5],[91,26],[92,23],[88,21],[84,19],[80,15],[78,11],[76,13],[74,19],[71,22]],
   [[100,18],[105,17],[104,13],[100,14]],
   [[114,37],[118,39],[118,34],[115,33]]],
  [[[71,27],[74,30],[80,28],[87,26],[90,25],[89,22],[85,21],[81,20],[78,16],[75,20],[73,23]]],
  [[[73,28],[78,28],[85,25.5],[89,24],[86,22],[81,23],[78,20],[75,23]]],
  [[[75,28],[80,27],[86,24.5],[87,23],[80,25],[76,25]]],
  [],
];

const xy = (pts: P) => pts.map(([x, y]) => ({ x, y }));
const close = (pts: P) => [...pts, pts[0]];
const area = (pts: P, color: string, edge = 0) => ({
  type: "scatter", showLine: true, data: xy(pts), fill: "shape", backgroundColor: color,
  borderColor: color, borderWidth: edge, pointRadius: 0,
});
const stroke = (pts: P, color: string, width: number, extra: any = {}) => ({
  type: "scatter", showLine: true, data: xy(pts), fill: false, borderColor: color,
  borderWidth: width, pointRadius: 0, borderJoinStyle: "round", ...extra,
});
const dots = (pts: P, color: string, r: number) => ({
  type: "scatter", showLine: false, data: xy(pts), backgroundColor: color, borderWidth: 0,
  pointRadius: r, pointStyle: "rect",
});

const landFilled: P[] = [northAmerica, southAmerica, africa, eurasia, chukotkaEast, australia, ...filledIslands];
const allCoasts: P[] = [greenland, ...landFilled, ...outlineIslands];

type Panel = {
  title: string; left: number; width: number; top: number; canvasTop: number; padTop: number;
  base: P | null; holes: P[]; patches: P[]; patchSpeckle: P; levels: P[][]; colors: string[]; speckle: P;
  ticks: number[]; barLeft: number; barWidth: number; barTop: number; barBottom: number; daysCenter: number; daysY: number;
};

const panels: Panel[] = [
  { title: "Monthly average frequency of dust aerosol", left: 9, width: 529, top: 38, canvasTop: 10, padTop: 5, base: dustBase, holes: dustHoles, patches: [], patchSpeckle: dustPeachSpeckle, levels: dustLevels, colors: sevenColors, speckle: [], ticks: dustTicks, barLeft: 571, barWidth: 11, barTop: 57, barBottom: 284, daysCenter: 587, daysY: 29 },
  { title: "Monthly average frequency of mixed aerosol", left: 677, width: 528, top: 38, canvasTop: 10, padTop: 5, base: mixedBase, holes: mixedHoles, patches: [], patchSpeckle: [], levels: mixedLevels, colors: eightColors, speckle: mixedSpeckle, ticks: mixedTicks, barLeft: 1237, barWidth: 12, barTop: 57, barBottom: 284, daysCenter: 1255, daysY: 29 },
  { title: "Monthly average frequency of smoke aerosol", left: 9, width: 529, top: 363, canvasTop: 335, padTop: 6, base: null, holes: smokeHoles, patches: smokePeachPatches, patchSpeckle: [], levels: smokeLevels, colors: eightColors, speckle: [], ticks: smokeTicks, barLeft: 571, barWidth: 11, barTop: 381, barBottom: 609, daysCenter: 587, daysY: 355 },
  { title: "Monthly average frequency of nonsmoke fine mode aerosol", left: 677, width: 528, top: 363, canvasTop: 335, padTop: 6, base: null, holes: fineHoles, patches: finePeachPatches, patchSpeckle: [], levels: fineLevels, colors: eightColors, speckle: fineSpeckle, ticks: fineTicks, barLeft: 1237, barWidth: 12, barTop: 381, barBottom: 609, daysCenter: 1255, daysY: 355 },
];

const FONT = "'DejaVu Sans'";
const TEXT = "#3d3d3d";
const TITLE_SIZE = 19.4;
const DAYS_SIZE = 17;
const TICK_SIZE = 14;
const INSET = 30;
const BLUR = "blur(0.55px)";
const MAP_EXTRA = 3;
const BAR_EXTRA = 6;

function mapDatasets(p: Panel) {
  const peach = p.colors[0];
  const list: any[] = [];
  if (p.base) list.push(area(p.base, peach));
  else landFilled.forEach((r) => list.push(area(r, peach, 2.5)));
  p.holes.forEach((r) => list.push(area(r, "#ffffff")));
  if (p.base) list.push(area([...antarcticaCoast, [180, -90], [-180, -90]], "#ffffff"));
  p.patches.forEach((r) => list.push(area(r, peach)));
  if (p.patchSpeckle.length) list.push(dots(p.patchSpeckle, peach, 1.6));
  p.levels.forEach((rings, i) => rings.forEach((r) => list.push(area(r, p.colors[i]))));
  if (p.speckle.length) list.push(dots(p.speckle, "#ffffff", 1.3));
  borderLines.forEach((l) => list.push(stroke(l, "rgba(0,0,0,0.8)", 1)));
  allCoasts.forEach((r) => list.push(stroke(close(r), "#000000", 1.4)));
  list.push(stroke(antarcticaCoast, "#000000", 1.4));
  list.push(stroke([[-180, 90], [180, 90], [180, -90], [-180, -90], [-180, 90]], "#3a3a3a", 1, { clip: false }));
  return list.reverse();
}

function makeMap(canvas: HTMLCanvasElement, p: Panel) {
  const right = p.title.includes("nonsmoke") ? INSET - 3 : INSET;
  canvas.width = p.width + INSET + right;
  canvas.height = p.top + 264 + 2 + MAP_EXTRA - p.canvasTop;
  canvas.style.cssText = `position:absolute;left:${p.left - INSET}px;top:${p.canvasTop}px;filter:${BLUR}`;
  const hidden = { display: false };
  return new Chart(canvas, {
    type: "scatter",
    data: { datasets: mapDatasets(p) as any },
    options: {
      animation: false, responsive: false, events: [], devicePixelRatio: 1,
      layout: { padding: { bottom: 2 } },
      plugins: {
        legend: hidden, tooltip: { enabled: false },
        title: {
          display: true, text: p.title, color: TEXT,
          font: { family: FONT, size: TITLE_SIZE, weight: "normal", lineHeight: "18px" as any },
          padding: { top: p.padTop, bottom: p.top - p.canvasTop - p.padTop - 18 },
        },
      },
      scales: {
        x: { type: "linear", min: -180, max: 180, display: false },
        y: {
          type: "linear", min: -90, max: 90, position: "left",
          ticks: hidden, grid: hidden, border: hidden, afterFit: (s: any) => { s.width = INSET; },
        },
        yRight: {
          type: "linear", min: -90, max: 90, position: "right",
          ticks: hidden, grid: hidden, border: hidden, afterFit: (s: any) => { s.width = right; },
        },
      },
    },
  } as any);
}

function makeBar(canvas: HTMLCanvasElement, p: Panel) {
  const lead = 11;
  const width = 2 * (p.daysCenter - (p.barLeft - lead));
  const canvasTop = p.daysY - 15;
  const bottomPad = 10;
  canvas.width = width;
  canvas.height = p.barBottom + bottomPad + BAR_EXTRA - canvasTop;
  canvas.style.cssText = `position:absolute;left:${p.barLeft - lead}px;top:${canvasTop}px;filter:${BLUR}`;
  const t = p.ticks;
  const max = t[t.length - 1];
  const hidden = { display: false };
  const datasets: any[] = [
    { data: [[0, max]], backgroundColor: "rgba(0,0,0,0)", borderColor: "#555", borderWidth: 1, borderSkipped: false, grouped: false, barPercentage: 1, categoryPercentage: 1 },
    ...t.slice(0, -1).map((v, i) => ({
      data: [[v, t[i + 1]]], backgroundColor: p.colors[i], borderWidth: 0, grouped: false, barPercentage: 1, categoryPercentage: 1,
    })),
  ];
  return new Chart(canvas, {
    type: "bar",
    data: { labels: ["days"], datasets },
    options: {
      animation: false, responsive: false, events: [], devicePixelRatio: 1,
      plugins: {
        legend: hidden, tooltip: { enabled: false },
        title: {
          display: true, text: "days", color: TEXT,
          font: { family: FONT, size: DAYS_SIZE, weight: "normal", lineHeight: "18px" as any },
          padding: { top: 6, bottom: p.barTop - canvasTop - 24 },
        },
      },
      scales: {
        x: { ticks: hidden, grid: hidden, border: hidden, afterFit: (s: any) => { s.height = bottomPad; } },
        yLeft: { type: "linear", position: "left", min: 0, max, ticks: hidden, grid: hidden, border: hidden, afterFit: (s: any) => { s.width = lead; } },
        y: {
          type: "linear", position: "right", min: 0, max,
          afterBuildTicks: (s: any) => { s.ticks = t.map((value) => ({ value })); },
          ticks: { color: TEXT, padding: 6, font: { family: FONT, size: TICK_SIZE }, autoSkip: false },
          grid: { drawOnChartArea: false, tickLength: 4, color: "#444" },
          border: hidden,
          afterFit: (s: any) => { s.width = width - lead - p.barWidth; },
        },
      },
    },
  } as any);
}

export default function App() {
  const host = useRef<HTMLDivElement>(null);
  useEffect(() => {
    document.body.style.margin = "0";
    document.body.style.overflow = "hidden";
    const charts: Chart[] = [];
    const nodes: HTMLCanvasElement[] = [];
    panels.forEach((p) => {
      const a = document.createElement("canvas");
      const b = document.createElement("canvas");
      host.current!.append(a, b);
      nodes.push(a, b);
      charts.push(makeMap(a, p), makeBar(b, p));
    });
    return () => {
      charts.forEach((c) => c.destroy());
      nodes.forEach((n) => n.remove());
    };
  }, []);
  return <div ref={host} style={{ position: "relative", width: 1284, height: 624, overflow: "hidden", background: "#fff" }} />;
}
